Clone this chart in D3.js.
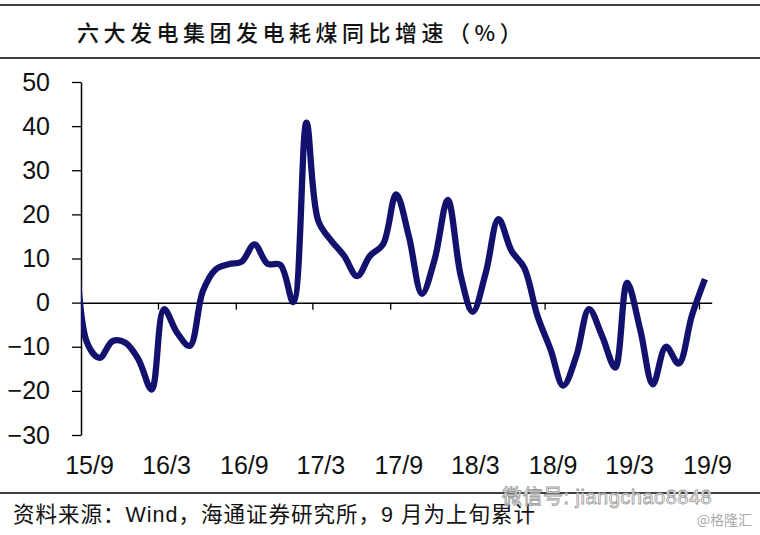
<!DOCTYPE html>
<html><head><meta charset="utf-8">
<script src="https://cdn.jsdelivr.net/npm/d3@7"></script>
<style>
html,body{margin:0;padding:0;background:#fff;}
svg{display:block;}
</style></head>
<body>
<svg id="chart" width="760" height="535"></svg>
<script>
// ---- data ----
const titleText = "六大发电集团发电耗煤同比增速（%）";
const sourceText = "资料来源：Wind，海通证券研究所，9 月为上旬累计";
// monthly observations (mid-month), Aug 2015 (clipped by the axis) to Sep 2019
const months = [
 "2015-08","2015-09","2015-10","2015-11","2015-12",
 "2016-01","2016-02","2016-03","2016-04","2016-05","2016-06","2016-07","2016-08","2016-09","2016-10","2016-11","2016-12",
 "2017-01","2017-02","2017-03","2017-04","2017-05","2017-06","2017-07","2017-08","2017-09","2017-10","2017-11","2017-12",
 "2018-01","2018-02","2018-03","2018-04","2018-05","2018-06","2018-07","2018-08","2018-09","2018-10","2018-11","2018-12",
 "2019-01","2019-02","2019-03","2019-04","2019-05","2019-06","2019-07","2019-08","2019-09"];
const values = [
 22, -9, -12.5, -8.7, -9.1,
 -12.9, -19.7, -1.5, -6.8, -9.8, 2.6, 7.5, 8.7, 9.3, 13.2, 8.8, 8.6,
 0.1, 40.8, 18.5, 14, 10.6, 6.0, 10.6, 13.2, 24.5, 15.1, 2.0, 9.8,
 23.3, 6.0, -2.1, 6.8, 18.9, 11.7, 7.9, -3.0, -10.6, -18.8, -12.1, -1.5,
 -7.6, -14.7, 4.5, -6.1, -18.5, -10, -13.8, -3.0, 5.3];
const xTickDates = ["2015-09","2016-03","2016-09","2017-03","2017-09","2018-03","2018-09","2019-03","2019-09"];
const xTickLabels = ["15/9","16/3","16/9","17/3","17/9","18/3","18/9","19/3","19/9"];
const yTicks = [50,40,30,20,10,0,-10,-20,-30];

// ---- layout ----
const svg = d3.select("#chart");
const parseM = d3.timeParse("%Y-%m");
const parseD = d3.timeParse("%Y-%m-%d");
const plotLeft = 81, plotTop = 82, plotBottom = 435;
const x0 = parseM("2015-09"), x1 = parseM("2019-09"), xEnd = parseM("2019-10");
const pxPerMs = (699 - plotLeft) / (x1 - x0);
const x = d3.scaleTime().domain([x0, xEnd]).range([plotLeft, plotLeft + (xEnd - x0) * pxPerMs]);
const y = d3.scaleLinear().domain([-30, 50]).range([plotBottom, plotTop]);

const data = months.map((m, i) => ({d: parseD(m + "-15"), v: values[i]}));

// frame rules
svg.append("line").attr("x1",0).attr("x2",760).attr("y1",5).attr("y2",5).attr("stroke","#000").attr("stroke-width",1.5);
svg.append("line").attr("x1",0).attr("x2",760).attr("y1",58).attr("y2",58).attr("stroke","#000").attr("stroke-width",1.5);
svg.append("line").attr("x1",0).attr("x2",760).attr("y1",493).attr("y2",493).attr("stroke","#000").attr("stroke-width",1.5);

// title
svg.append("text").attr("x",77).attr("y",33).attr("dy","0.36em")
  .style("font-family","'Noto Sans CJK SC', sans-serif").style("font-size","22px")
  .style("font-weight","500")
  .style("letter-spacing","4.5px").attr("fill","#111").text(titleText);

// y axis
const yAxis = svg.append("g").attr("transform",`translate(${plotLeft},0)`)
  .call(d3.axisLeft(y).tickValues(yTicks).tickSize(9).tickSizeOuter(0).tickPadding(22).tickFormat(d3.format("d")));
yAxis.select(".domain").attr("stroke","#000").attr("stroke-width",1.5);
yAxis.selectAll(".tick line").attr("stroke","#000").attr("stroke-width",1.3);
yAxis.selectAll("text").style("font-family","'Liberation Sans', Arial, sans-serif").style("font-size","25px").attr("fill","#111");

// x axis (at zero)
const tickDates = xTickDates.map(parseM);
const xAxis = svg.append("g").attr("transform",`translate(0,${y(0)})`)
  .call(d3.axisBottom(x).tickValues(tickDates.slice(1)).tickSize(7).tickSizeOuter(0).tickFormat(""));
xAxis.select(".domain").attr("stroke","#000").attr("stroke-width",1.5);
xAxis.selectAll(".tick line").attr("stroke","#000").attr("stroke-width",1.3);

// x labels at bottom
const xLab = svg.append("g").attr("transform",`translate(8,${plotBottom + 21})`)
  .call(d3.axisBottom(x).tickValues(tickDates).tickSize(0).tickPadding(0)
        .tickFormat((d,i) => xTickLabels[i]));
xLab.select(".domain").remove();
xLab.selectAll("text").style("font-family","'Liberation Sans', Arial, sans-serif").style("font-size","25px").attr("fill","#111");

// clip
svg.append("clipPath").attr("id","plotclip").append("rect")
  .attr("x",plotLeft).attr("y",0).attr("width",760-plotLeft).attr("height",535);

// line
const line = d3.line().x(d => x(d.d)).y(d => y(d.v)).curve(d3.curveCatmullRom.alpha(0.5));
svg.append("path").datum(data).attr("clip-path","url(#plotclip)")
  .attr("d", line).attr("fill","none").attr("stroke","#12126e").attr("stroke-width",6.3)
  .attr("stroke-linejoin","round");

// footer
svg.append("text").attr("x",13).attr("y",514).attr("dy","0.36em")
  .style("font-family","'Liberation Sans', 'Noto Sans CJK SC', sans-serif").style("font-size","21.5px")
  .style("letter-spacing","1px")
  .attr("fill","#111").text(sourceText);

// watermarks
svg.append("text").attr("x",502).attr("y",497).attr("dy","0.36em")
  .style("font-family","'Liberation Sans', 'Noto Sans CJK SC', sans-serif").style("font-size","20px")
  .style("letter-spacing","0.5px")
  .attr("fill","#fff").attr("stroke","#999").attr("stroke-width",0.8).text("微信号: jiangchao8848");
svg.append("text").attr("x",752).attr("y",520).attr("dy","0.36em").attr("text-anchor","end")
  .style("font-family","'Noto Sans CJK SC', sans-serif").style("font-size","14px")
  .attr("fill","#aaa").text("@格隆汇");
</script>
</body></html>
